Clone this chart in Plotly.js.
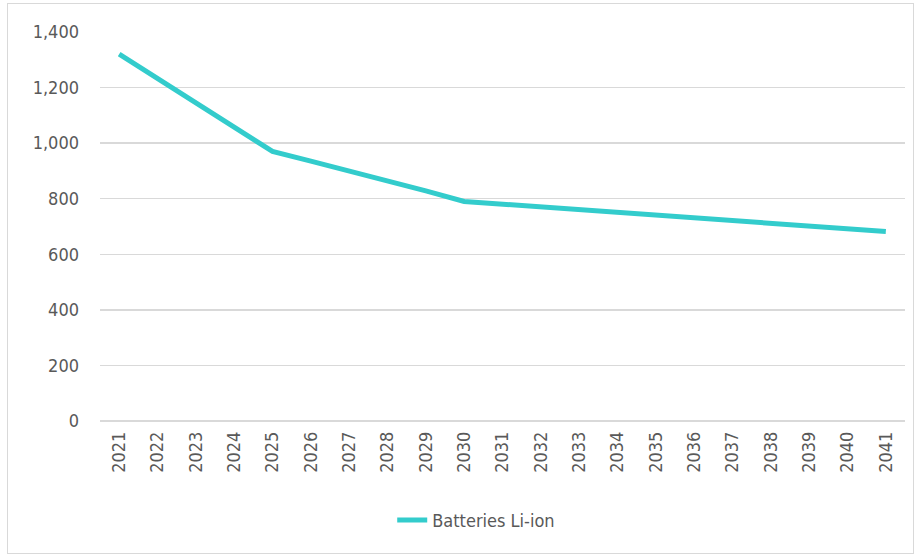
<!DOCTYPE html>
<html>
<head>
<meta charset="utf-8">
<script src="https://cdn.plot.ly/plotly-3.0.1.min.js"></script>
<style>
html,body{margin:0;padding:0;background:#fff;}
#wrap{position:relative;width:921px;height:558px;}
#frame{position:absolute;left:7px;top:3px;width:907px;height:551px;border:1px solid #d9d9d9;box-sizing:border-box;pointer-events:none;z-index:5;}
#chart{position:absolute;left:0;top:0;width:921px;height:558px;}
</style>
</head>
<body>
<div id="wrap">
<div id="chart"></div>
<div id="frame"></div>
</div>
<script>
const years = ["2021","2022","2023","2024","2025","2026","2027","2028","2029","2030","2031","2032","2033","2034","2035","2036","2037","2038","2039","2040","2041"];
const batteriesLiIon = [1320,1232,1145,1060,970,935,900,865,828,790,780,770,761,751,739,729,720,711,699,690,682];
const yTicks = [0,200,400,600,800,1000,1200,1400];
const seriesName = "Batteries Li-ion";

const fontFam = "'DejaVu Sans Condensed','Liberation Sans',sans-serif";

const trace = {
  type: "scatter",
  mode: "lines",
  x: years,
  y: batteriesLiIon,
  name: seriesName,
  line: {color: "#33CCCC", width: 5}
};

const layout = {
  width: 921, height: 558,
  margin: {l: 100, r: 16, t: 32, b: 137},
  paper_bgcolor: "#ffffff",
  plot_bgcolor: "#ffffff",
  showlegend: true,
  font: {family: fontFam, color: "#595959", size: 18},
  xaxis: {
    type: "category",
    range: [-0.5, years.length - 0.5],
    showgrid: false,
    zeroline: false,
    showline: false,
    tickangle: -90,
    tickfont: {family: fontFam, size: 18, color: "#595959"},
    ticks: "",
    ticklabelstandoff: 6
  },
  yaxis: {
    range: [0, 1400],
    tickvals: yTicks,
    tickformat: ",d",
    showgrid: true,
    gridcolor: "#d9d9d9",
    gridwidth: 1.3,
    zeroline: true,
    zerolinecolor: "#d9d9d9",
    zerolinewidth: 1.3,
    showline: false,
    ticks: "",
    ticklabelstandoff: 20,
    tickfont: {family: fontFam, size: 18, color: "#595959"}
  },
  legend: {
    orientation: "h",
    x: 0.363, xanchor: "left",
    y: -0.255, yanchor: "middle",
    font: {family: fontFam, size: 18, color: "#595959"},
    bgcolor: "rgba(0,0,0,0)"
  }
};

Plotly.newPlot("chart", [trace], layout, {staticPlot: true, displayModeBar: false});
</script>
</body>
</html>
